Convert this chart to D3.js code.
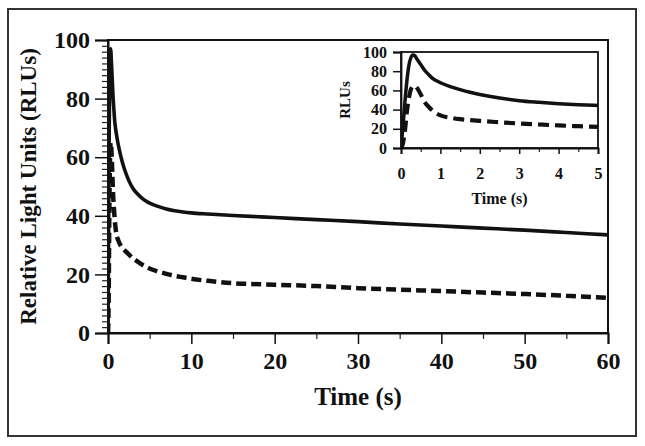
<!DOCTYPE html>
<html><head><meta charset="utf-8">
<script src="https://cdn.jsdelivr.net/npm/d3@7"></script>
<style>
html,body{margin:0;padding:0;background:#fff;}
text{font-family:"Liberation Serif","Times New Roman",serif;font-weight:bold;fill:#111;}
</style></head>
<body><svg id="c" width="645" height="446"></svg>
<script>
// ---- data ----
const timeS = [0,0.05,0.1,0.15,0.2,0.25,0.3,0.35,0.4,0.5,0.6,0.7,0.8,0.9,1.0,1.25,1.5,1.75,2,2.5,3,3.5,4,4.5,5,6,7,8,9,10,12,15,20,25,30,35,40,45,50,55,60];
const solidRLU = [0,22,48,70,86,94,97,96,93,87,81,76.5,72.5,70,68,64,60.8,58,55.7,52,49.3,47.6,46.2,45.1,44.3,43.2,42.3,41.7,41.3,41,40.6,40.1,39.4,38.7,38,37.2,36.5,35.8,35.1,34.3,33.5];
const dashRLU  = [0,5,18,38,52,61,64.5,65,63,56,48,43,39,36,34,31.5,30,29,28.2,26.8,25.5,24.5,23.5,22.7,22,21,20.2,19.5,19,18.5,17.8,17,16.5,16,15.3,14.8,14.3,13.8,13.3,12.7,12];
const mainXTicks = [0,10,20,30,40,50,60];
const mainYTicks = [0,20,40,60,80,100];
const insetXTicks = [0,1,2,3,4,5];
const insetYTicks = [0,20,40,60,80,100];
const xLabel = "Time (s)";
const yLabel = "Relative Light Units (RLUs)";
const insetYLabel = "RLUs";

const svg = d3.select("#c");
svg.append("rect").attr("x",8).attr("y",9).attr("width",628).attr("height",427)
  .attr("fill","none").attr("stroke","#333").attr("stroke-width",2);

const solid = timeS.map((t,i)=>({t, v:solidRLU[i]}));
const dashed = timeS.map((t,i)=>({t, v:dashRLU[i]}));

function panel(cfg){
  const x = d3.scaleLinear().domain(cfg.xd).range([cfg.x0,cfg.x1]);
  const y = d3.scaleLinear().domain([0,100]).range([cfg.y0,cfg.y1]);
  const g = svg.append("g");
  g.append("rect").attr("x",cfg.x0).attr("y",cfg.y1).attr("width",cfg.x1-cfg.x0).attr("height",cfg.y0-cfg.y1)
    .attr("fill","#fff").attr("stroke","#111").attr("stroke-width",cfg.frameW);
  const gxm = g.append("g").attr("transform",`translate(0,${cfg.y0})`)
    .call(d3.axisBottom(x).tickValues(cfg.xMinor).tickSize(cfg.minorX).tickFormat(""));
  const gym = g.append("g").attr("transform",`translate(${cfg.x0},0)`)
    .call(d3.axisLeft(y).tickValues(cfg.yMinor).tickSize(cfg.minorY).tickFormat(""));
  [gxm,gym].forEach(a=>{a.select(".domain").remove(); a.selectAll("line").attr("stroke","#222").attr("stroke-width",1.2);});
  const gx = g.append("g").attr("transform",`translate(0,${cfg.y0})`)
    .call(d3.axisBottom(x).tickValues(cfg.xt).tickSize(cfg.majorX).tickPadding(cfg.padX).tickFormat(d3.format("d")));
  const gy = g.append("g").attr("transform",`translate(${cfg.x0},0)`)
    .call(d3.axisLeft(y).tickValues(cfg.yt).tickSize(cfg.majorY).tickPadding(cfg.padY).tickFormat(d3.format("d")));
  [gx,gy].forEach(a=>{
    a.select(".domain").attr("stroke","#111").attr("stroke-width",cfg.frameW);
    a.selectAll("line").attr("stroke","#111").attr("stroke-width",1.5);
    a.selectAll("text").style("font-size",cfg.fs+"px").attr("fill","#111");
  });
  const clipId = "clip"+cfg.id;
  g.append("clipPath").attr("id",clipId).append("rect")
    .attr("x",cfg.x0).attr("y",cfg.y1-4).attr("width",cfg.x1-cfg.x0+2).attr("height",cfg.y0-cfg.y1+4);
  const line = d3.line().curve(d3.curveMonotoneX).x(d=>x(d.t)).y(d=>y(d.v));
  const filt = a=>a.filter(d=>d.t<=cfg.xd[1]);
  g.append("path").datum(filt(dashed)).attr("d",line).attr("fill","none").attr("stroke","#111")
    .attr("stroke-width",cfg.dashW).attr("stroke-dasharray",cfg.dash).attr("clip-path",`url(#${clipId})`);
  g.append("path").datum(filt(solid)).attr("d",line).attr("fill","none").attr("stroke","#111")
    .attr("stroke-width",cfg.solidW).attr("stroke-linejoin","round").attr("clip-path",`url(#${clipId})`);
  g.append("text").attr("x",(cfg.x0+cfg.x1)/2).attr("y",cfg.xLabY).attr("text-anchor","middle")
    .style("font-size",cfg.labFs+"px").text(xLabel);
  g.append("text").attr("transform",`translate(${cfg.yLabX},${(cfg.y0+cfg.y1)/2}) rotate(-90)`)
    .attr("text-anchor","middle").style("font-size",cfg.yLabFs+"px").text(cfg.yLab);
}

panel({id:"m", xd:[0,60], x0:108, x1:608, y0:333, y1:40, frameW:2,
  xt:mainXTicks, yt:mainYTicks,
  xMinor:d3.range(5,60,10), yMinor:d3.range(0,101,2).filter(v=>v%20!==0),
  majorX:11, majorY:13, minorX:6, minorY:6, padX:8, padY:5, fs:24,
  dash:"10,5", dashW:4.5, solidW:3.6, xLabY:405, labFs:25, yLabX:36, yLabFs:23, yLab:yLabel});

panel({id:"i", xd:[0,5], x0:401, x1:598, y0:148, y1:52, frameW:1.8,
  xt:insetXTicks, yt:insetYTicks,
  xMinor:d3.range(0.5,5,1), yMinor:[],
  majorX:6, majorY:8, minorX:4, minorY:4, padX:14, padY:6, fs:16,
  dash:"11,6", dashW:4.2, solidW:3.5, xLabY:204, labFs:16, yLabX:350, yLabFs:15, yLab:insetYLabel});
</script></body></html>
